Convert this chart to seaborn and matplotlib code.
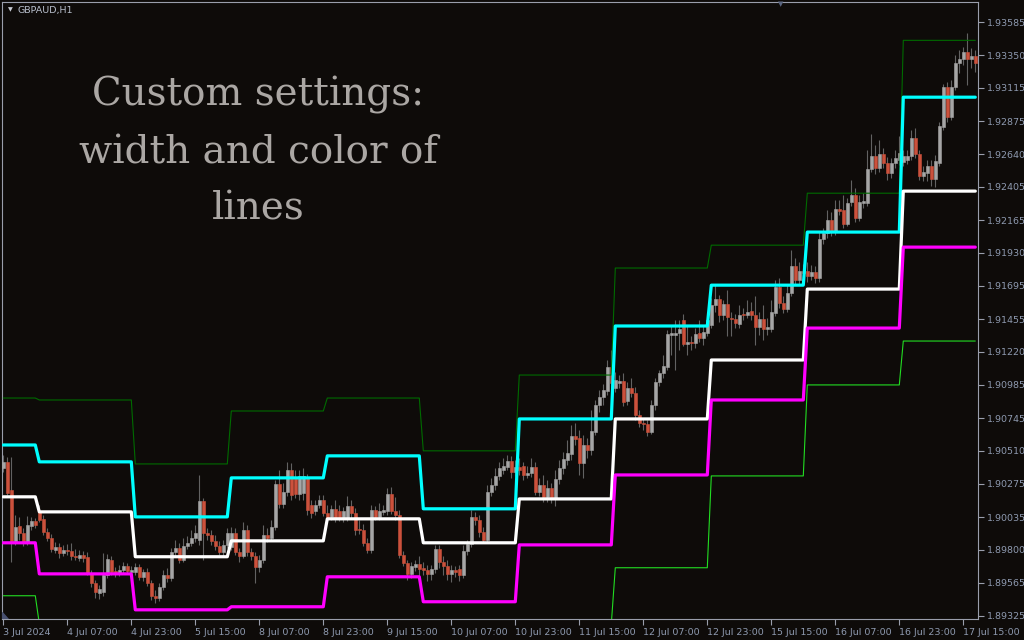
"""
GBPAUD H1 with daily pivot levels (custom width and colour of lines)
"""

import matplotlib

matplotlib.use("Agg")
import matplotlib.pyplot as plt
import numpy as np
import pandas as pd
import seaborn as sns
from matplotlib.patches import Polygon

# hourly bars, 3 Jul 15:00 .. 17 Jul 18:00 (trading hours only)
opens = [
    1.90387, 1.90431, 1.90230, 1.89864, 1.89972, 1.89921, 1.89857, 1.89972,
    1.90008, 1.90072, 1.90022, 1.89929, 1.89886, 1.89800, 1.89821, 1.89778,
    1.89800, 1.89793, 1.89757, 1.89742, 1.89764, 1.89750, 1.89635, 1.89563,
    1.89491, 1.89498, 1.89620, 1.89728, 1.89649, 1.89635, 1.89656, 1.89685,
    1.89642, 1.89642, 1.89678, 1.89606, 1.89642, 1.89563, 1.89470, 1.89455,
    1.89534, 1.89620, 1.89599, 1.89785, 1.89814, 1.89728, 1.89828, 1.89850,
    1.89886, 1.89871, 1.90151, 1.89921, 1.89907, 1.89864, 1.89828, 1.89785,
    1.89835, 1.89821, 1.89921, 1.89785, 1.89757, 1.89943, 1.89785, 1.89757,
    1.89678, 1.89728, 1.89907, 1.89886, 1.89965, 1.90273, 1.90129, 1.90215,
    1.90373, 1.90316, 1.90201, 1.90208, 1.90316, 1.90122, 1.90079, 1.90122,
    1.90158, 1.90065, 1.90036, 1.90094, 1.90079, 1.90029, 1.90029, 1.90115,
    1.90065, 1.89950, 1.89943, 1.89850, 1.89800, 1.90086, 1.90036, 1.90072,
    1.90079, 1.90201, 1.90079, 1.90050, 1.89764, 1.89707, 1.89627, 1.89678,
    1.89699, 1.89671, 1.89656, 1.89627, 1.89663, 1.89807, 1.89714, 1.89685,
    1.89627, 1.89656, 1.89663, 1.89620, 1.89793, 1.89843, 1.90036, 1.90015,
    1.89929, 1.89871, 1.90215, 1.90266, 1.90330, 1.90373, 1.90395, 1.90438,
    1.90359, 1.90395, 1.90402, 1.90337, 1.90352, 1.90395, 1.90215, 1.90266,
    1.90180, 1.90244, 1.90172, 1.90309, 1.90388, 1.90445, 1.90488, 1.90617,
    1.90603, 1.90424, 1.90552, 1.90517, 1.90646, 1.90839, 1.90896, 1.90940,
    1.91112, 1.90961, 1.90997, 1.91011, 1.90868, 1.90961, 1.90925, 1.90767,
    1.90710, 1.90703, 1.90646, 1.90839, 1.91004, 1.91069, 1.91112, 1.91341,
    1.91341, 1.91355, 1.91449, 1.91276, 1.91291, 1.91284, 1.91355, 1.91320,
    1.91355, 1.91413, 1.91556, 1.91599, 1.91484, 1.91563, 1.91463, 1.91456,
    1.91420, 1.91492, 1.91484, 1.91513, 1.91484, 1.91398, 1.91456, 1.91384,
    1.91384, 1.91499, 1.91685, 1.91570, 1.91527, 1.91642, 1.91836, 1.91735,
    1.91800, 1.91800, 1.91764, 1.91793, 1.91750, 1.92029, 1.92072, 1.92166,
    1.92087, 1.92245, 1.92237, 1.92137, 1.92295, 1.92345, 1.92180, 1.92288,
    1.92288, 1.92531, 1.92625, 1.92539, 1.92639, 1.92574, 1.92503, 1.92574,
    1.92596, 1.92582, 1.92596, 1.92625, 1.92754, 1.92639, 1.92481, 1.92503,
    1.92553, 1.92460, 1.92574, 1.92832, 1.93119, 1.92904, 1.93119, 1.93291,
    1.93320, 1.93370, 1.93320, 1.93342,
]
highs = [
    1.90481, 1.90467, 1.90467, 1.90050, 1.90036, 1.89957, 1.90043, 1.90036,
    1.90029, 1.90122, 1.90050, 1.89957, 1.89914, 1.89857, 1.89850, 1.89835,
    1.89843, 1.89850, 1.89807, 1.89800, 1.89793, 1.89785, 1.89656, 1.89584,
    1.89549, 1.89778, 1.89771, 1.89757, 1.89678, 1.89692, 1.89714, 1.89707,
    1.89685, 1.89707, 1.89699, 1.89663, 1.89671, 1.89584, 1.89513, 1.89563,
    1.89656, 1.89671, 1.89814, 1.89871, 1.89850, 1.89886, 1.89900, 1.89943,
    1.89979, 1.90337, 1.90172, 1.89957, 1.89943, 1.89907, 1.89864, 1.89871,
    1.89957, 1.89965, 1.89957, 1.89814, 1.90001, 1.89979, 1.89814, 1.89785,
    1.89764, 1.89979, 1.89957, 1.90015, 1.90301, 1.90373, 1.90280, 1.90431,
    1.90424, 1.90373, 1.90373, 1.90388, 1.90345, 1.90158, 1.90158, 1.90194,
    1.90194, 1.90122, 1.90122, 1.90158, 1.90122, 1.90108, 1.90187, 1.90158,
    1.90101, 1.90015, 1.89986, 1.89886, 1.90122, 1.90115, 1.90137, 1.90122,
    1.90244, 1.90251, 1.90180, 1.90086, 1.89793, 1.89728, 1.89714, 1.89728,
    1.89757, 1.89714, 1.89692, 1.89692, 1.89835, 1.89835, 1.89757, 1.89728,
    1.89692, 1.89685, 1.89692, 1.89835, 1.89871, 1.90086, 1.90072, 1.90050,
    1.89965, 1.90266, 1.90316, 1.90388, 1.90431, 1.90459, 1.90481, 1.90474,
    1.90445, 1.90459, 1.90431, 1.90402, 1.90459, 1.90431, 1.90316, 1.90337,
    1.90301, 1.90280, 1.90373, 1.90445, 1.90502, 1.90588, 1.90696, 1.90710,
    1.90660, 1.90624, 1.90603, 1.90803, 1.90875, 1.90947, 1.90990, 1.91162,
    1.91233, 1.91076, 1.91054, 1.91069, 1.91004, 1.91033, 1.90968, 1.90803,
    1.90746, 1.90732, 1.90875, 1.91033, 1.91090, 1.91197, 1.91377, 1.91413,
    1.91449, 1.91449, 1.91492, 1.91413, 1.91334, 1.91391, 1.91449, 1.91413,
    1.91506, 1.91606, 1.91699, 1.91628, 1.91592, 1.91664, 1.91506, 1.91492,
    1.91556, 1.91535, 1.91592, 1.91578, 1.91621, 1.91506, 1.91556, 1.91463,
    1.91592, 1.91735, 1.91750, 1.91621, 1.91699, 1.91950, 1.91893, 1.91864,
    1.91850, 1.91864, 1.91843, 1.91836, 1.92080, 1.92108, 1.92237, 1.92223,
    1.92309, 1.92309, 1.92345, 1.92323, 1.92452, 1.92395, 1.92345, 1.92359,
    1.92668, 1.92782, 1.92703, 1.92739, 1.92682, 1.92617, 1.92610, 1.92668,
    1.92768, 1.92668, 1.92668, 1.92811, 1.92825, 1.92668, 1.92553, 1.92596,
    1.92596, 1.92632, 1.92868, 1.93141, 1.93155, 1.93169, 1.93349, 1.93385,
    1.93406, 1.93506, 1.93399, 1.93385,
]
lows = [
    1.90359, 1.90194, 1.89714, 1.89835, 1.89871, 1.89828, 1.89835, 1.89943,
    1.89957, 1.90001, 1.89907, 1.89864, 1.89785, 1.89778, 1.89742, 1.89757,
    1.89764, 1.89728, 1.89728, 1.89721, 1.89714, 1.89620, 1.89534, 1.89455,
    1.89448, 1.89470, 1.89599, 1.89620, 1.89606, 1.89613, 1.89635, 1.89627,
    1.89620, 1.89620, 1.89584, 1.89577, 1.89541, 1.89441, 1.89419, 1.89434,
    1.89513, 1.89570, 1.89577, 1.89750, 1.89707, 1.89714, 1.89807, 1.89828,
    1.89857, 1.89835, 1.89728, 1.89871, 1.89835, 1.89800, 1.89764, 1.89757,
    1.89814, 1.89800, 1.89764, 1.89714, 1.89742, 1.89757, 1.89728, 1.89563,
    1.89642, 1.89707, 1.89857, 1.89871, 1.89943, 1.90101, 1.90101, 1.90187,
    1.90158, 1.90172, 1.90158, 1.90158, 1.90050, 1.90029, 1.90050, 1.90101,
    1.90043, 1.90001, 1.90015, 1.90001, 1.90008, 1.90001, 1.90008, 1.90029,
    1.89907, 1.89914, 1.89828, 1.89778, 1.89778, 1.90015, 1.90015, 1.90050,
    1.90050, 1.90058, 1.90015, 1.89742, 1.89685, 1.89584, 1.89599, 1.89649,
    1.89599, 1.89620, 1.89577, 1.89584, 1.89635, 1.89671, 1.89620, 1.89584,
    1.89570, 1.89606, 1.89577, 1.89599, 1.89764, 1.89821, 1.89979, 1.89893,
    1.89857, 1.89857, 1.90187, 1.90230, 1.90301, 1.90345, 1.90373, 1.90316,
    1.90330, 1.90337, 1.90301, 1.90316, 1.90323, 1.90194, 1.90187, 1.90144,
    1.90144, 1.90137, 1.90115, 1.90273, 1.90345, 1.90409, 1.90445, 1.90552,
    1.90337, 1.90316, 1.90459, 1.90481, 1.90624, 1.90789, 1.90839, 1.90911,
    1.90961, 1.90932, 1.90961, 1.90832, 1.90839, 1.90896, 1.90732, 1.90681,
    1.90660, 1.90617, 1.90631, 1.90803, 1.90975, 1.91033, 1.91090, 1.91197,
    1.91090, 1.91233, 1.91262, 1.91197, 1.91233, 1.91248, 1.91291, 1.91269,
    1.91334, 1.91391, 1.91506, 1.91434, 1.91449, 1.91334, 1.91334, 1.91391,
    1.91391, 1.91449, 1.91463, 1.91449, 1.91269, 1.91341, 1.91305, 1.91341,
    1.91363, 1.91477, 1.91535, 1.91499, 1.91506, 1.91621, 1.91699, 1.91699,
    1.91735, 1.91721, 1.91735, 1.91714, 1.91721, 1.91994, 1.92037, 1.92051,
    1.92058, 1.92201, 1.92108, 1.92123, 1.92266, 1.92151, 1.92158, 1.92252,
    1.92266, 1.92510, 1.92495, 1.92510, 1.92539, 1.92452, 1.92467, 1.92539,
    1.92560, 1.92553, 1.92567, 1.92596, 1.92610, 1.92452, 1.92445, 1.92445,
    1.92410, 1.92402, 1.92553, 1.92811, 1.92868, 1.92883, 1.93098, 1.93220,
    1.93277, 1.93134, 1.93255, 1.93227,
]
closes = [
    1.90431, 1.90208, 1.89864, 1.89965, 1.89922, 1.89857, 1.89979, 1.90008,
    1.89979, 1.90015, 1.89929, 1.89886, 1.89807, 1.89821, 1.89778, 1.89800,
    1.89793, 1.89757, 1.89750, 1.89764, 1.89742, 1.89635, 1.89563, 1.89498,
    1.89520, 1.89620, 1.89735, 1.89642, 1.89635, 1.89656, 1.89685, 1.89649,
    1.89656, 1.89678, 1.89606, 1.89642, 1.89563, 1.89470, 1.89455, 1.89534,
    1.89620, 1.89599, 1.89785, 1.89814, 1.89728, 1.89828, 1.89850, 1.89886,
    1.89921, 1.90151, 1.89921, 1.89907, 1.89864, 1.89828, 1.89785, 1.89835,
    1.89921, 1.89921, 1.89785, 1.89757, 1.89943, 1.89785, 1.89757, 1.89678,
    1.89728, 1.89907, 1.89886, 1.89965, 1.90273, 1.90129, 1.90215, 1.90373,
    1.90194, 1.90201, 1.90330, 1.90330, 1.90086, 1.90065, 1.90122, 1.90158,
    1.90065, 1.90029, 1.90094, 1.90029, 1.90029, 1.90079, 1.90115, 1.90065,
    1.89943, 1.89943, 1.89850, 1.89800, 1.90086, 1.90036, 1.90079, 1.90086,
    1.90201, 1.90079, 1.90050, 1.89764, 1.89707, 1.89627, 1.89685, 1.89699,
    1.89663, 1.89656, 1.89627, 1.89663, 1.89807, 1.89714, 1.89685, 1.89627,
    1.89656, 1.89642, 1.89620, 1.89793, 1.89843, 1.90036, 1.90015, 1.89929,
    1.89871, 1.90215, 1.90266, 1.90330, 1.90388, 1.90402, 1.90438, 1.90359,
    1.90395, 1.90373, 1.90337, 1.90352, 1.90395, 1.90215, 1.90266, 1.90180,
    1.90244, 1.90172, 1.90309, 1.90388, 1.90452, 1.90495, 1.90617, 1.90596,
    1.90424, 1.90552, 1.90517, 1.90653, 1.90839, 1.90896, 1.90947, 1.91112,
    1.90997, 1.91018, 1.91011, 1.90861, 1.90961, 1.90925, 1.90767, 1.90710,
    1.90703, 1.90646, 1.90839, 1.91004, 1.91069, 1.91119, 1.91348, 1.91355,
    1.91355, 1.91384, 1.91276, 1.91291, 1.91284, 1.91348, 1.91320, 1.91363,
    1.91449, 1.91556, 1.91599, 1.91484, 1.91563, 1.91470, 1.91456, 1.91427,
    1.91484, 1.91484, 1.91506, 1.91484, 1.91398, 1.91456, 1.91384, 1.91398,
    1.91506, 1.91685, 1.91570, 1.91527, 1.91642, 1.91836, 1.91735, 1.91800,
    1.91786, 1.91764, 1.91793, 1.91750, 1.92029, 1.92072, 1.92166, 1.92087,
    1.92245, 1.92230, 1.92137, 1.92288, 1.92345, 1.92180, 1.92295, 1.92302,
    1.92531, 1.92625, 1.92539, 1.92639, 1.92574, 1.92503, 1.92574, 1.92610,
    1.92646, 1.92625, 1.92625, 1.92754, 1.92639, 1.92481, 1.92510, 1.92553,
    1.92460, 1.92589, 1.92840, 1.93119, 1.92904, 1.93119, 1.93291, 1.93320,
    1.93370, 1.93320, 1.93342, 1.93291,
]

# daily pivot levels, one value per trading day
days = ["3 Jul", "4 Jul", "5 Jul", "8 Jul", "9 Jul", "10 Jul",
        "11 Jul", "12 Jul", "15 Jul", "16 Jul", "17 Jul"]
bars_per_day = [9, 24, 24, 24, 24, 24, 24, 24, 24, 24, 19]
r2 = [1.90889, 1.90875, 1.90416, 1.90796, 1.90889, 1.90510,
      1.91054, 1.91822, 1.91986, 1.92359, 1.93456]
r1 = [1.90552, 1.90431, 1.90036, 1.90316, 1.90474, 1.90094,
      1.90739, 1.91406, 1.91699, 1.92080, 1.93048]
pivot = [1.90180, 1.90072, 1.89750, 1.89864, 1.90022, 1.89850,
         1.90165, 1.90739, 1.91162, 1.91671, 1.92374]
s1 = [1.89850, 1.89627, 1.89369, 1.89391, 1.89606, 1.89427,
      1.89835, 1.90337, 1.90875, 1.91391, 1.91972]
s2 = [1.89470, 1.89270, 1.89083, 1.88929, 1.89153, 1.89184,
      1.89268, 1.89671, 1.90330, 1.90983, 1.91298]

xtick_labels = ["3 Jul 2024", "4 Jul 07:00", "4 Jul 23:00", "5 Jul 15:00",
                "8 Jul 07:00", "8 Jul 23:00", "9 Jul 15:00", "10 Jul 07:00",
                "10 Jul 23:00", "11 Jul 15:00", "12 Jul 07:00", "12 Jul 23:00",
                "15 Jul 15:00", "16 Jul 07:00", "16 Jul 23:00", "17 Jul 15:00"]
ytick_values = [1.93585, 1.93350, 1.93115, 1.92875, 1.92640, 1.92405, 1.92165,
                1.91930, 1.91695, 1.91455, 1.91220, 1.90985, 1.90745, 1.90510,
                1.90275, 1.90035, 1.89800, 1.89565, 1.89325]

# colours
bg = "#0e0b09"
frame = "#9a9eac"
label_col = "#8e9ab0"
bull, bear, wick = "#a6a6a6", "#cc513c", "#626262"

sns.set_theme(style="dark", rc={"axes.facecolor": bg, "figure.facecolor": bg})
plt.rcParams["font.family"] = ["DejaVu Sans"]

fig = plt.figure(figsize=(10.24, 6.4), dpi=100)
ax = fig.add_axes([2.3 / 1024, 20.7 / 640, 976 / 1024, 617 / 640])

# candles
bars = pd.DataFrame({"open": opens, "high": highs, "low": lows, "close": closes})
bars["bar"] = np.arange(len(bars))
up = bars.close >= bars.open
ax.vlines(bars.bar, bars.low, bars.high, color=wick, lw=0.8, zorder=2)
for mask, col in ((up, bull), (~up, bear)):
    b = bars[mask]
    ax.bar(b.bar, b.close - b.open, bottom=b.open, width=0.72,
           color=col, edgecolor=col, linewidth=0.4, zorder=3)

# pivot lines
levels = pd.DataFrame({
    "bar": bars.bar,
    "R2": np.repeat(r2, bars_per_day),
    "R1": np.repeat(r1, bars_per_day),
    "P": np.repeat(pivot, bars_per_day),
    "S1": np.repeat(s1, bars_per_day),
    "S2": np.repeat(s2, bars_per_day),
})
levels = levels.melt("bar", var_name="level", value_name="price")
styles = {"R2": ("#006b00", 0.8), "S2": ("#22dd22", 0.8),
          "R1": ("#00ffff", 2.3), "P": ("#ffffff", 2.3), "S1": ("#ff00ff", 2.3)}
for name, (col, lw) in styles.items():
    sns.lineplot(data=levels[levels.level == name], x="bar", y="price",
                 color=col, lw=lw, estimator=None, ax=ax, zorder=4)

# axes
ax.set_xlim(-0.25, 243.75)
ax.set_ylim(1.89301, 1.93729)
ax.set_xlabel("")
ax.set_ylabel("")
ax.yaxis.tick_right()
ax.set_yticks(ytick_values)
ax.set_yticklabels([f"{v:.5f}" for v in ytick_values])
ax.set_xticks(range(0, 241, 16))
ax.set_xticklabels(xtick_labels, ha="left")
ax.tick_params(axis="both", direction="out", length=4, width=0.8, color=frame,
               labelcolor=label_col, labelsize=6.8)
ax.tick_params(axis="y", right=True, left=False, pad=2)
ax.tick_params(axis="x", bottom=True, pad=2)
for s in ax.spines.values():
    s.set_color(frame)
    s.set_linewidth(0.8)
ax.grid(False)

# small chart-shift marker in the lower left corner
ax.add_patch(Polygon([(0, 0), (0, 0.011), (0.0062, 0)], closed=True,
                     transform=ax.transAxes, color="#485070", zorder=5))

# header and caption
fig.text(8 / 1024, 1 - 10 / 640, "▼", fontsize=4.5, color="#c8ccd4", va="center")
fig.text(18 / 1024, 1 - 10 / 640, "GBPAUD,H1", fontsize=6.8, color="#b8bfcc", va="center")
fig.text(781 / 1024, 1 - 4 / 640, "▼", fontsize=5, color="#5a6580", ha="center", va="center")
for txt, base in (("Custom settings:", 105), ("width and color of", 163), ("lines", 220)):
    fig.text(258 / 1024, 1 - base / 640, txt, ha="center", va="baseline",
             fontsize=28, family="DejaVu Serif", color="#aba7a4")

fig.savefig("out.png", dpi=100, facecolor=bg)
